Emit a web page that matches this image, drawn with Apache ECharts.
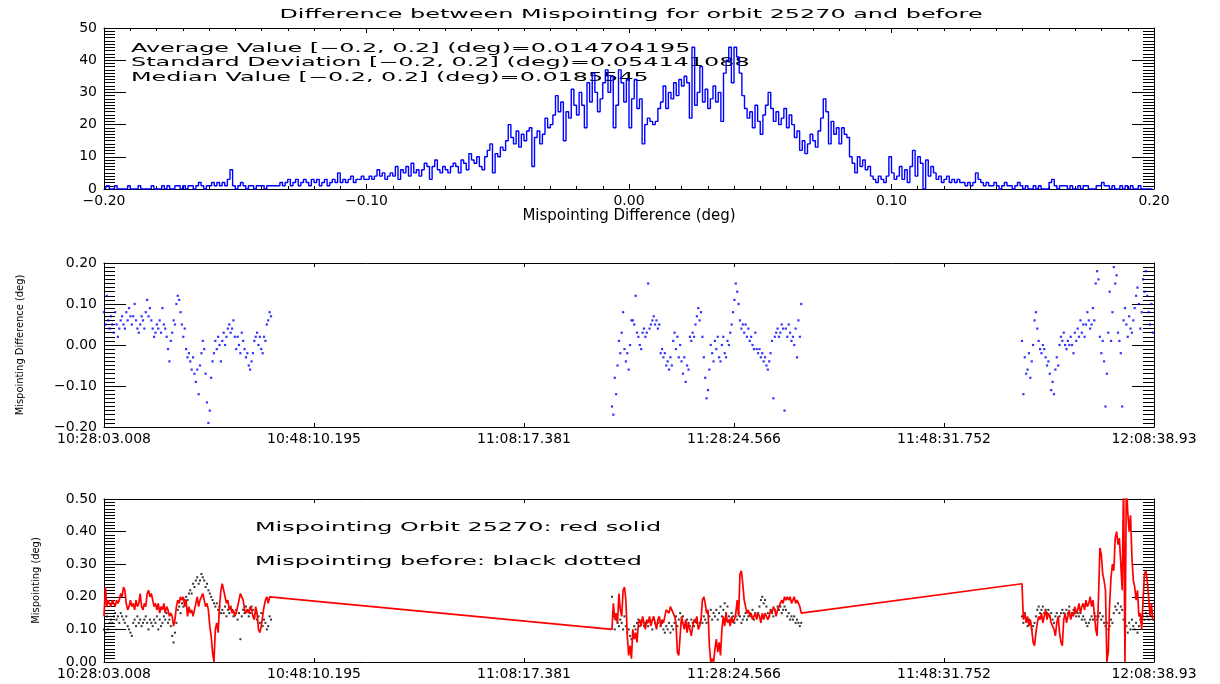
<!DOCTYPE html>
<html><head><meta charset="utf-8">
<script src="https://cdn.jsdelivr.net/npm/echarts@6/dist/echarts.min.js"></script>
<style>html,body{margin:0;padding:0;background:#fff}#c{width:1220px;height:684px}</style>
</head><body><div id="c"></div>
<script>
// ---------- DATA ----------
const titleText = 'Difference between Mispointing for orbit 25270 and before';
const statLines = [
  'Average Value [\u22120.2, 0.2] (deg)=0.014704195',
  'Standard Deviation [\u22120.2, 0.2] (deg)=0.054141088',
  'Median Value [\u22120.2, 0.2] (deg)=0.0185545'
];
const legendLines = ['Mispointing Orbit 25270: red solid', 'Mispointing before: black dotted'];

// histogram of the mispointing difference, bins of 0.001 deg from -0.2 to 0.2
const histBinStart = -0.2;
const histBinWidth = 0.001;
const histCounts = [
0,1,0,0,1,0,0,0,0,1, 0,0,0,1,0,0,0,0,1,0, 0,0,1,0,1,0,0,1,1,0, 1,0,1,1,0,1,2,1,0,1,
1,2,1,2,1,2,1,3,6,1, 0,1,2,1,0,1,1,0,1,1, 1,0,1,1,1,1,1,2,1,2, 3,1,2,3,1,2,3,2,1,3,
2,3,1,2,3,1,2,3,2,5, 2,3,2,3,4,2,3,3,4,3, 3,4,3,4,6,4,5,3,4,5, 4,7,3,6,5,7,4,8,5,6,
4,6,8,7,3,7,9,6,5,7, 6,5,7,8,7,5,9,8,6,11, 9,8,10,7,6,10,12,14,5,11, 10,13,12,15,20,16,14,18,13,17,
15,18,19,7,16,18,14,17,22,19, 20,23,29,24,27,15,24,22,31,26, 23,30,26,19,33,27,36,30,24,28, 33,37,30,35,19,26,37,33,27,34,
19,28,34,25,28,14,20,22,21,20, 21,25,27,32,25,30,28,33,29,34, 32,35,33,22,44,26,30,38,27,31, 25,28,32,27,30,21,36,40,44,33,
44,41,36,29,25,22,24,19,26,21, 17,23,26,30,25,21,24,20,22,25, 19,23,20,16,18,12,15,11,14,17, 15,13,18,22,28,24,14,21,17,19,
14,19,17,16,10,8,5,10,7,9, 6,7,4,3,2,4,3,2,4,10, 5,3,4,7,3,6,2,7,12,4, 10,8,0,9,4,7,5,3,4,2,
3,4,2,3,2,3,2,2,1,2, 1,2,5,3,2,1,2,1,1,2, 1,0,1,2,1,1,0,1,2,1, 0,1,0,0,1,0,1,0,0,0,
2,3,1,0,1,1,1,0,1,0, 0,1,0,1,1,0,0,0,1,1, 2,1,1,0,1,0,0,1,0,1, 0,1,0,0,1,0,0,0,0,0
];

// time axis (seconds after 10:28:03.008)
const timeTickStep = 1207.184;
const timeTickLabels = ['10:28:03.008','10:48:10.195','11:08:17.381','11:28:24.566','11:48:31.752','12:08:38.93'];
const sampleStep = 8;              // s between samples
const segStarts = [0, 2920, 5277]; // s, start of the three measurement segments

// difference (deg), middle panel
const diffSegA = [.08,.05,.12,.06,.04,.07,.05,.03,.08,.05,.02,.04,.06,.07,.05,.04,.08,.06,.09,.07,.05,.07,.10,.06,.04,.03,.05,.07,.06,.04,.08,.11,.07,.09,.06,.04,.02,.03,.05,.04,.06,.03,.09,.05,.04,.02,-.01,-.04,.01,.03,.06,.05,.10,.12,.11,.08,.05,.02,.04,-.01,-.03,-.02,-.04,-.06,-.03,-.07,-.09,-.06,-.12,-.05,-.02,.01,-.01,-.07,-.14,-.19,-.16,-.08,-.04,-.02,.01,-.01,.02,0,-.04,.01,.03,0,.02,.04,.05,.03,.04,.06,.02,-.01,.02,0,-.02,.03,.01,-.01,-.03,-.02,-.05,-.06,-.04,-.02,.01,.02,.03,0,.02,-.01,-.02,.02,.01,.05,.06,.08,.07];
const diffSegB = [-.15,-.17,-.08,-.12,-.05,.01,-.02,.03,.08,-.01,-.04,-.02,-.06,0,.06,.06,.05,.12,.03,.02,0,-.01,.03,.04,.02,.03,.15,.04,.05,.06,.07,.05,.06,.04,.05,-.02,-.01,-.03,-.02,-.05,-.04,-.06,-.03,-.05,.01,.03,-.01,.02,-.03,0,-.04,-.07,-.03,-.09,-.05,-.06,.02,.01,.03,.02,.05,.07,.09,.06,.08,.02,-.03,-.08,-.13,-.11,-.06,0,-.02,-.04,.01,-.01,.02,-.03,-.04,0,.02,-.02,-.03,.01,0,.03,.05,.08,.11,.15,.13,.10,.06,.04,.05,.03,.05,.02,.04,.01,.02,0,-.01,.03,-.01,-.02,-.01,-.03,-.02,-.04,-.03,-.05,-.06,-.04,-.02,.01,-.13,.02,.03,.04,.02,.03,.05,.04,-.16,.04,.02,.05,.03,.01,.02,0,.04,-.03,.06,.02,.10];
const diffSegC = [.01,-.12,-.03,-.07,-.06,-.02,-.08,-.04,0,.06,.08,.04,.01,-.01,-.02,0,-.01,-.03,-.05,-.04,-.07,-.11,-.09,-.12,-.06,-.03,-.05,0,.02,.01,.03,0,-.01,.01,0,.02,0,-.02,.03,.01,.04,.02,.06,.03,.05,.02,.05,.08,.06,.04,.05,.09,.06,.15,.18,.16,.02,-.02,.01,-.04,-.15,-.07,.03,.13,.01,.08,.19,.15,.17,.03,.01,-.02,-.15,.06,.09,.05,.02,.07,.04,.03,.06,.09,.12,.14,.10,.04,.08,.16,.13,.18,.12,.08,.05,.10,.03];

// mispointing orbit 25270 (deg), red
const orbitSegA = [.14,.23,.17,.19,.18,.17,.19,.18,.17,.19,.18,.19,.21,.20,.23,.22,.18,.16,.17,.19,.17,.18,.16,.19,.17,.18,.21,.17,.16,.18,.17,.21,.22,.20,.21,.19,.17,.18,.16,.18,.15,.17,.16,.18,.15,.17,.16,.14,.15,.14,.11,.13,.17,.19,.18,.20,.19,.20,.17,.19,.14,.17,.15,.16,.14,.16,.18,.20,.17,.19,.20,.21,.19,.17,.18,.16,.11,.08,.03,0,.10,.12,.09,.17,.22,.24,.22,.20,.18,.19,.16,.17,.15,.16,.14,.15,.17,.19,.21,.20,.19,.16,.15,.16,.15,.17,.16,.14,.13,.17,.15,.10,.09,.11,.14,.17,.19,.20,.18,.20,.20];
const orbitSegB = [.10,.18,.13,.15,.12,.21,.16,.14,.22,.23,.19,.08,.02,.05,.01,.10,.07,.09,.06,.12,.13,.11,.14,.12,.10,.13,.12,.14,.11,.13,.14,.12,.10,.13,.14,.11,.13,.12,.14,.16,.16,.15,.17,.16,.15,.14,.12,.03,.02,.08,.14,.12,.10,.13,.09,.12,.10,.08,.11,.13,.12,.14,.10,.11,.13,.19,.20,.18,.15,.16,.05,0,.01,0,.04,.07,.03,.06,.02,.10,.14,.11,.15,.12,.13,.11,.14,.12,.13,.15,.19,.14,.27,.28,.24,.19,.17,.15,.16,.14,.15,.13,.14,.15,.13,.15,.14,.12,.15,.13,.15,.14,.13,.14,.16,.15,.17,.16,.14,.16,.17,.18,.19,.18,.20,.19,.20,.19,.20,.18,.19,.20,.18,.19,.18,.17,.15];
const orbitSegC = [.24,.13,.15,.12,.14,.11,.13,.10,.06,.05,.09,.12,.14,.13,.15,.12,.14,.16,.13,.15,.14,.12,.11,.10,.08,.12,.14,.09,.06,.05,.13,.15,.12,.14,.16,.13,.15,.14,.17,.15,.16,.18,.15,.17,.18,.16,.19,.17,.18,.20,.17,.19,.15,.10,.08,.20,.35,.33,.27,.25,.22,0,.03,.18,.26,.30,.28,.38,.40,.36,.38,.30,.22,.56,0,.55,.46,.40,.45,.32,.25,.23,.19,.22,.14,.15,.10,.19,.27,.28,.25,.20,.14,.18,.13];

// mispointing before (deg), black dots
const beforeSegA = [.10,.09,.14,.10,.12,.13,.12,.14,.15,.13,.14,.12,.15,.14,.13,.12,.14,.11,.10,.09,.08,.12,.13,.11,.14,.12,.13,.11,.12,.13,.14,.12,.10,.13,.12,.11,.13,.12,.14,.10,.13,.11,.12,.14,.13,.15,.12,.13,.11,.08,.06,.09,.12,.16,.17,.15,.18,.17,.19,.20,.19,.21,.22,.21,.24,.23,.25,.26,.24,.25,.27,.26,.25,.23,.24,.22,.21,.20,.19,.18,.17,.18,.16,.17,.15,.16,.15,.17,.14,.16,.15,.17,.16,.14,.15,.16,.13,.15,.07,.14,.16,.15,.17,.16,.14,.15,.17,.16,.14,.15,.13,.14,.12,.15,.11,.13,.12,.10,.11,.14,.13];
const beforeSegB = [.20,.14,.10,.13,.12,.11,.13,.12,.10,.14,.11,.09,.10,.08,.07,.09,.11,.10,.12,.13,.11,.12,.13,.11,.12,.12,.11,.13,.12,.10,.13,.12,.11,.12,.13,.11,.12,.10,.09,.11,.10,.12,.09,.11,.10,.12,.14,.11,.13,.15,.12,.14,.11,.12,.13,.12,.11,.13,.12,.11,.13,.12,.11,.12,.13,.12,.14,.13,.12,.15,.14,.16,.13,.15,.14,.16,.13,.15,.17,.14,.16,.18,.15,.17,.14,.13,.15,.14,.12,.14,.13,.15,.14,.12,.13,.14,.15,.13,.14,.15,.14,.16,.13,.15,.14,.15,.17,.19,.20,.18,.19,.17,.15,.14,.16,.15,.14,.16,.15,.17,.16,.17,.15,.16,.17,.16,.14,.15,.13,.14,.13,.14,.12,.13,.12,.11,.12];
const beforeSegC = [.14,.12,.15,.13,.11,.13,.12,.10,.11,.12,.14,.16,.17,.15,.16,.17,.15,.16,.15,.16,.14,.15,.13,.12,.14,.15,.13,.14,.15,.16,.15,.14,.16,.15,.17,.14,.15,.16,.15,.14,.15,.14,.15,.13,.14,.13,.12,.11,.12,.13,.14,.13,.15,.14,.13,.14,.15,.13,.14,.12,.11,.12,.10,.11,.13,.12,.15,.17,.16,.18,.15,.17,.16,.13,.12,.11,.09,.12,.10,.13,.11,.10,.12,.09,.11,.13,.12,.14,.13,.15,.14,.13,.15,.14,.13];

// ---------- BUILD ----------
const FONT = '"DejaVu Sans", sans-serif';
const NARROW = '"Liberation Sans Narrow", "DejaVu Sans Condensed", sans-serif';
const minus = s => s.replace('-', '\u2212');
const fmt2 = v => Math.abs(v) < 1e-9 ? '0.00' : minus(v.toFixed(2));

const histData = histCounts.map((c, i) => [histBinStart + histBinWidth * (i + 0.5), c]);
function segPairs(segs) {
  const out = [];
  segs.forEach((vals, s) => vals.forEach((v, i) => out.push([segStarts[s] + i * sampleStep, v])));
  return out;
}
const diffData = segPairs([diffSegA, diffSegB, diffSegC]);
const orbitData = segPairs([orbitSegA, orbitSegB, orbitSegC]);
const beforeData = segPairs([beforeSegA, beforeSegB, beforeSegC]);
const timeMax = timeTickStep * (timeTickLabels.length - 1);
const timeFmt = v => timeTickLabels[Math.round(v / timeTickStep)] || '';

const black = {color: '#000', width: 1};
function xAx(grid, pos, cfg) {
  return {
    type: 'value', gridIndex: grid, position: pos, min: cfg.min, max: cfg.max, interval: cfg.interval,
    axisLine: {show: true, onZero: false, lineStyle: black},
    axisTick: {show: true, inside: true, length: cfg.tickLen, lineStyle: black},
    minorTick: {show: !!cfg.minor, splitNumber: cfg.minor || 5, length: cfg.minorLen || 2, lineStyle: black},
    splitLine: {show: false}, minorSplitLine: {show: false},
    axisLabel: {show: pos === 'bottom', formatter: cfg.fmt, color: '#000', fontFamily: FONT, fontSize: 14, margin: 5},
    name: pos === 'bottom' ? (cfg.name || '') : '',
    nameLocation: 'middle', nameGap: cfg.nameGap || 20,
    nameTextStyle: {color: '#000', fontFamily: FONT, fontSize: 15}
  };
}
function yAx(grid, pos, cfg) {
  return {
    type: 'value', gridIndex: grid, position: pos, min: cfg.min, max: cfg.max, interval: cfg.interval,
    axisLine: {show: true, onZero: false, lineStyle: black},
    axisTick: {show: true, inside: true, length: 22, lineStyle: black},
    minorTick: {show: true, splitNumber: 10, length: 11, lineStyle: black},
    splitLine: {show: false}, minorSplitLine: {show: false},
    axisLabel: {show: pos === 'left', formatter: cfg.fmt, color: '#000', fontFamily: FONT, fontSize: 14, margin: 7},
    name: pos === 'left' ? (cfg.name || '') : '',
    nameLocation: 'middle', nameGap: cfg.nameGap || 40,
    nameTextStyle: {color: '#000', fontFamily: NARROW, fontSize: 11}
  };
}
const histX = {min: -0.2, max: 0.2, interval: 0.1, tickLen: 5, minor: 10, minorLen: 3, fmt: fmt2, name: 'Mispointing Difference (deg)', nameGap: 15};
const timeX = {min: 0, max: timeMax, interval: timeTickStep, tickLen: 4, fmt: timeFmt};

const stretch = 1.99;
const txtStyle = (t, align) => ({text: t, fill: '#000', fontFamily: FONT, fontSize: 12,
  textAlign: align, textVerticalAlign: 'middle', align: align, verticalAlign: 'middle'});

const option = {
  animation: false,
  backgroundColor: '#fff',
  grid: [
    {left: 104, right: 66, top: 28, height: 161},
    {left: 104, right: 66, top: 263, height: 164},
    {left: 104, right: 66, top: 499, height: 163}
  ],
  xAxis: [
    xAx(0, 'bottom', histX), xAx(0, 'top', histX),
    xAx(1, 'bottom', timeX), xAx(1, 'top', timeX),
    xAx(2, 'bottom', timeX), xAx(2, 'top', timeX)
  ],
  yAxis: [
    yAx(0, 'left', {min: 0, max: 50, interval: 10, fmt: v => String(v)}), yAx(0, 'right', {min: 0, max: 50, interval: 10}),
    yAx(1, 'left', {min: -0.2, max: 0.2, interval: 0.1, fmt: fmt2, name: 'Mispointing Difference (deg)', nameGap: 78}),
    yAx(1, 'right', {min: -0.2, max: 0.2, interval: 0.1}),
    yAx(2, 'left', {min: 0, max: 0.5, interval: 0.1, fmt: fmt2, name: 'Mispointing (deg)', nameGap: 62}),
    yAx(2, 'right', {min: 0, max: 0.5, interval: 0.1})
  ],
  series: [
    {type: 'line', name: 'Histogram', xAxisIndex: 0, yAxisIndex: 0, data: histData, step: 'middle',
     showSymbol: false, lineStyle: {color: '#0000ff', width: 1.4}, itemStyle: {color: '#0000ff'}, clip: true},
    {type: 'scatter', name: 'Difference', xAxisIndex: 2, yAxisIndex: 2, data: diffData, symbol: 'rect', symbolSize: 2.2,
     itemStyle: {color: '#0000ff'}, clip: true},
    {type: 'line', name: 'Mispointing Orbit 25270', xAxisIndex: 4, yAxisIndex: 4, data: orbitData, showSymbol: false,
     lineStyle: {color: '#ff0000', width: 1.7}, itemStyle: {color: '#ff0000'}, clip: true},
    {type: 'scatter', name: 'Mispointing before', xAxisIndex: 4, yAxisIndex: 4, data: beforeData, symbol: 'rect', symbolSize: 2,
     itemStyle: {color: '#000'}, clip: true}
  ],
  graphic: [
    {type: 'text', x: 631, y: 15, scaleX: stretch, style: txtStyle(titleText, 'center')},
    ...statLines.map((t, i) => ({type: 'text', x: 131, y: 49 + i * 14.3, scaleX: stretch, style: txtStyle(t, 'left')})),
    ...legendLines.map((t, i) => ({type: 'text', x: 255, y: 528 + i * 34, scaleX: stretch, style: txtStyle(t, 'left')}))
  ]
};
const chart = echarts.init(document.getElementById('c'), null, {renderer: 'canvas'});
chart.setOption(option);
</script></body></html>
